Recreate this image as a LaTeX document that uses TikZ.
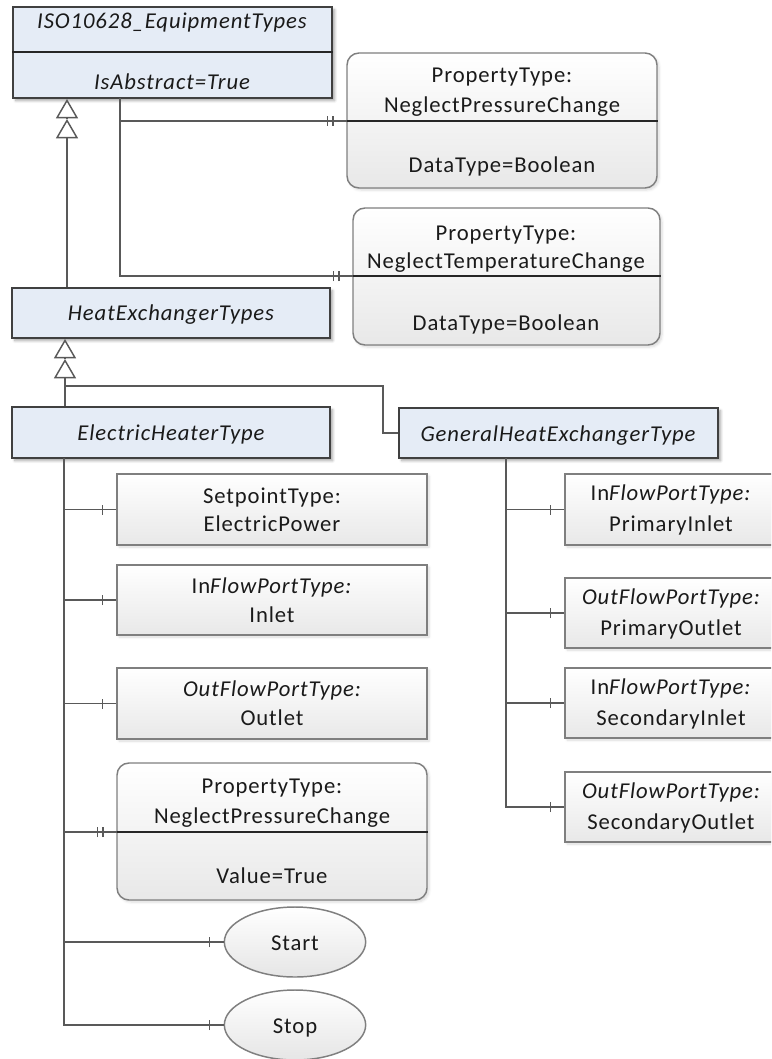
\documentclass[tikz,border=0pt]{standalone}
\usepackage{fontspec}
\setmainfont{Carlito}[LetterSpace=4]
\usetikzlibrary{arrows.meta,fit,shapes.geometric,shadows.blur,decorations.markings}

\definecolor{classfill}{HTML}{E5ECF6}
\definecolor{classline}{HTML}{404040}
\definecolor{boxline}{HTML}{7F7F7F}
\definecolor{connline}{HTML}{595959}
\definecolor{ink}{HTML}{1A1A1A}

\tikzset{
  classbox/.style={draw=classline, line width=1.5pt, fill=classfill, inner sep=0pt,
    blur shadow={shadow xshift=2pt, shadow yshift=-2pt, shadow blur steps=6, shadow opacity=35}},
  graybox/.style={draw=boxline, line width=1.1pt, top color=white, bottom color=black!9,
    inner sep=0pt, blur shadow={shadow xshift=1.5pt, shadow yshift=-1.5pt, shadow blur steps=5, shadow opacity=15}},
  roundbox/.style={graybox, rounded corners=9pt},
  oval/.style={ellipse, draw=boxline, line width=1.1pt, top color=white, bottom color=black!10,
    minimum width=106pt, minimum height=52.5pt, inner sep=0pt},
  txt/.style={anchor=base, inner sep=0pt, text=ink, font=\fontsize{17}{20}\selectfont},
  divider/.style={draw=black!85, line width=1.1pt},
  conn/.style={draw=connline, line width=1.1pt},
  gen/.style={conn, -{Triangle[open, length=14.5pt, width=16.5pt, line width=1.1pt]}},
  one/.style={postaction={decorate}, decoration={markings,
    mark=at position -10.5pt with {\draw[connline, line width=1.1pt] (0,-3.75pt) -- (0,3.75pt);}}},
  two/.style={postaction={decorate}, decoration={markings,
    mark=at position -10.5pt with {\draw[connline, line width=1.1pt] (0,-3.75pt) -- (0,3.75pt);},
    mark=at position -14.5pt with {\draw[connline, line width=1.1pt] (0,-3.75pt) -- (0,3.75pt);}}},
}

\begin{document}
\begin{tikzpicture}[x=0.75pt, y=-0.75pt]
\useasboundingbox (0,0) rectangle (771,1059);
\clip (0,0) rectangle (771,1059);

% ---- abstract class hierarchy ----
\node[classbox, fit={(13,7) (332,98)}] (iso) {};
\draw[divider] (iso.west |- 0,52) -- (iso.east |- 0,52);
\node[txt] (isoT) at (172,29) {\itshape ISO10628\_EquipmentTypes};
\node[txt] (isoA) at (172,90) {\itshape IsAbstract=True};

\node[classbox, fit={(12,288) (330,338)}] (he) {};
\node[txt] (heT) at (171,320) {\itshape HeatExchangerTypes};

\node[classbox, fit={(12,407) (330,458)}] (eh) {};
\node[txt] (ehT) at (171,440) {\itshape ElectricHeaterType};

\node[classbox, fit={(399,408) (718,458)}] (ghe) {};
\node[txt] (gheT) at (558,441) {\itshape GeneralHeatExchangerType};

% ---- property types of the equipment types ----
\node[roundbox, fit={(347,53) (657,188)}] (pt1) {};
\node[txt] (pt1a) at (502,83) {PropertyType:};
\node[txt] (pt1b) at (502,113) {NeglectPressureChange};
\node[txt] (pt1c) at (502,173) {DataType=Boolean};

\node[roundbox, fit={(353,208) (660,345)}] (pt2) {};
\node[txt] (pt2a) at (506,240) {PropertyType:};
\node[txt] (pt2b) at (506,268) {NeglectTemperatureChange};
\node[txt] (pt2c) at (506,330) {DataType=Boolean};

% ---- members of ElectricHeaterType ----
\node[graybox, fit={(117,474) (427,545)}] (sp) {};
\node[txt] (spA) at (272,503) {SetpointType:};
\node[txt] (spB) at (272,531) {ElectricPower};

\node[graybox, fit={(117,565) (427,635)}] (inl) {};
\node[txt] (inlA) at (272,593) {In\textit{FlowPortType:}};
\node[txt] (inlB) at (272,622) {Inlet};

\node[graybox, fit={(117,668) (427,739)}] (outl) {};
\node[txt] (outlA) at (272,696) {\itshape OutFlowPortType:};
\node[txt] (outlB) at (272,725) {Outlet};

\node[roundbox, fit={(117,763) (427,900)}] (pt3) {};
\node[txt] (pt3a) at (272,793) {PropertyType:};
\node[txt] (pt3b) at (272,823) {NeglectPressureChange};
\node[txt] (pt3c) at (272,883) {Value=True};

\node[oval] (start) at (295,942) {};
\node[txt] (startT) at (295,950) {Start};
\node[oval] (stop) at (295,1025) {};
\node[txt] (stopT) at (295,1033) {Stop};

% ---- members of GeneralHeatExchangerType ----
\node[graybox, fit={(565,474) (777,545)}] (pin) {};
\node[txt] (pinA) at (671,500) {In\textit{FlowPortType:}};
\node[txt] (pinB) at (671,531) {PrimaryInlet};

\node[graybox, fit={(565,578) (777,648)}] (pout) {};
\node[txt] (poutA) at (671,604) {\itshape OutFlowPortType:};
\node[txt] (poutB) at (671,635) {PrimaryOutlet};

\node[graybox, fit={(565,668) (777,738)}] (sin) {};
\node[txt] (sinA) at (671,694) {In\textit{FlowPortType:}};
\node[txt] (sinB) at (671,725) {SecondaryInlet};

\node[graybox, fit={(565,772) (777,842)}] (sout) {};
\node[txt] (soutA) at (671,798) {\itshape OutFlowPortType:};
\node[txt] (soutB) at (671,829) {SecondaryOutlet};

% compartment dividers drawn level with the attaching connector
\coordinate (d1) at (347,121);
\coordinate (d2) at (353,276);
\coordinate (d3) at (117,832);
\draw[divider] (d1) -- (pt1.east |- d1);
\draw[divider] (d2) -- (pt2.east |- d2);
\draw[divider] (d3) -- (pt3.east |- d3);

% ---- generalisations ----
\coordinate (g1) at (67,119);
\draw[gen] (he.north -| g1) -- (g1);
\draw[gen] (g1) -- (iso.south -| g1);

\coordinate (g2) at (65,359);
\coordinate (g3) at (383,386);
\draw[gen] (eh.north -| g2) -- (g2);
\draw[gen] (g2) -- (he.south -| g2);
\draw[conn] (g2 |- g3) -- (g3) |- (ghe.west);

% ---- property attachments ----
\coordinate (isoL) at (120,98);
\draw[conn, two] (isoL) |- (d1);
\draw[conn, two] (isoL) |- (d2);

\coordinate (ehL) at (64,458);
\draw[conn, one] (ehL) |- (sp.west);
\draw[conn, one] (ehL) |- (inl.west);
\draw[conn, one] (ehL) |- (outl.west);
\draw[conn, two] (ehL) |- (d3);
\draw[conn, one] (ehL) |- (start.west);
\draw[conn, one] (ehL) |- (stop.west);

\coordinate (gheL) at (506,458);
\draw[conn, one] (gheL) |- (pin.west);
\draw[conn, one] (gheL) |- (pout.west);
\draw[conn, one] (gheL) |- (sin.west);
\draw[conn, one] (gheL) |- (sout.west);
\end{tikzpicture}
\end{document}
